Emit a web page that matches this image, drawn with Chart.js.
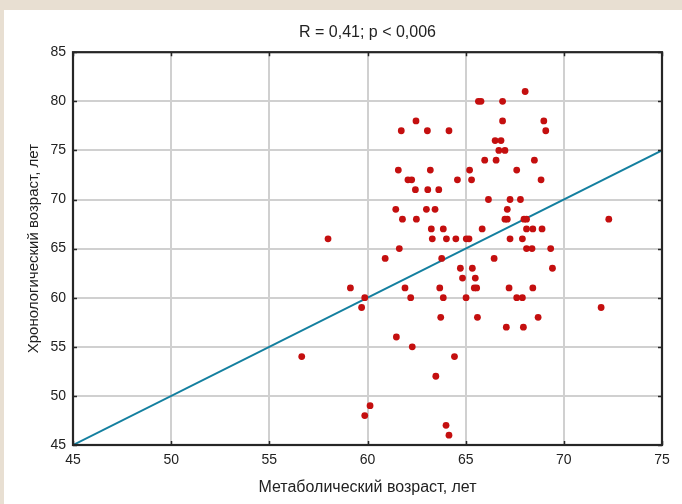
<!DOCTYPE html>
<html><head><meta charset="utf-8">
<script src="https://cdn.jsdelivr.net/npm/chart.js@4/dist/chart.umd.min.js"></script>
<style>
html,body{margin:0;padding:0;background:#e8dfd2;width:682px;height:504px;overflow:hidden}
#panel{position:absolute;left:4px;top:10px;width:678px;height:494px;background:#fff}
canvas{display:block}
</style></head><body>
<div id="panel"><canvas id="c" width="678" height="494"></canvas></div>
<script>
// Metabolic age (x) and chronological age (y) per patient
const metabolicAge = [
  68.03,
  65.65, 65.78, 66.88,
  62.47, 66.88, 68.98,
  61.72, 63.05, 64.15, 69.08,
  66.5, 66.8,
  66.69, 67.0,
  65.97, 66.55, 68.5,
  61.57, 63.2, 65.2, 67.6,
  62.06, 62.25, 64.58, 65.3, 68.84,
  62.44, 63.07, 63.63,
  66.16, 67.26, 67.79,
  61.44, 63.0, 63.44, 67.12,
  61.78, 62.49, 67.0, 67.12, 67.97, 68.1, 72.29,
  63.25, 63.86, 65.84, 68.1, 68.42, 68.89,
  57.99, 63.3, 64.02, 64.5, 65.03, 65.17, 67.26, 67.89,
  61.62, 68.1, 68.38, 69.33,
  60.9, 63.78, 66.45,
  64.73, 65.34, 69.42,
  64.84, 65.49,
  59.13, 61.91, 63.68, 65.44, 65.56, 67.21, 68.42,
  59.86, 62.2, 63.86, 65.02, 67.6, 67.89,
  59.7, 71.9,
  63.73, 65.6, 68.69,
  67.07, 67.94,
  61.47,
  62.28,
  56.65, 64.43,
  63.48,
  60.13,
  59.86,
  64.0,
  64.15
];
const chronoAge = [
  81,
  80, 80, 80,
  78, 78, 78,
  77, 77, 77, 77,
  76, 76,
  75, 75,
  74, 74, 74,
  73, 73, 73, 73,
  72, 72, 72, 72, 72,
  71, 71, 71,
  70, 70, 70,
  69, 69, 69, 69,
  68, 68, 68, 68, 68, 68, 68,
  67, 67, 67, 67, 67, 67,
  66, 66, 66, 66, 66, 66, 66, 66,
  65, 65, 65, 65,
  64, 64, 64,
  63, 63, 63,
  62, 62,
  61, 61, 61, 61, 61, 61, 61,
  60, 60, 60, 60, 60, 60,
  59, 59,
  58, 58, 58,
  57, 57,
  56,
  55,
  54, 54,
  52,
  49,
  48,
  47,
  46
];
// Reference line
const lineX = [45, 75];
const lineY = [45, 75];
// Axis ticks
const xTicks = [45, 50, 55, 60, 65, 70, 75];
const yTicks = [45, 50, 55, 60, 65, 70, 75, 80, 85];
const chartTitle = 'R = 0,41; p < 0,006';
const xTitle = 'Метаболический возраст, лет';
const yTitle = 'Хронологический возраст, лет';

const FONT = "'Liberation Sans', Arial, sans-serif";
const TXT = '#222222';

const frame = {
  id: 'frame',
  afterDraw(chart) {
    const {ctx, chartArea: a, scales: {x, y}} = chart;
    ctx.save();
    ctx.strokeStyle = '#262626';
    ctx.lineWidth = 1.5;
    ctx.beginPath();
    xTicks.forEach(v => {
      const px = Math.round(x.getPixelForValue(v)) + 0.5;
      ctx.moveTo(px, a.bottom); ctx.lineTo(px, a.bottom - 4);
      ctx.moveTo(px, a.top); ctx.lineTo(px, a.top + 4);
    });
    yTicks.forEach(v => {
      const py = Math.round(y.getPixelForValue(v)) + 0.5;
      ctx.moveTo(a.left, py); ctx.lineTo(a.left + 4, py);
      ctx.moveTo(a.right, py); ctx.lineTo(a.right - 4, py);
    });
    ctx.stroke();
    ctx.lineWidth = 2.2;
    ctx.strokeRect(a.left, a.top, a.right - a.left, a.bottom - a.top);
    ctx.restore();
  }
};

new Chart(document.getElementById('c'), {
  data: {
    datasets: [
      {
        type: 'scatter',
        data: metabolicAge.map((v, i) => ({x: v, y: chronoAge[i]})),
        backgroundColor: '#c40f0f',
        borderColor: '#c40f0f',
        borderWidth: 0,
        pointRadius: 3.4,
        order: 1
      },
      {
        type: 'line',
        data: lineX.map((v, i) => ({x: v, y: lineY[i]})),
        borderColor: '#137f9f',
        borderWidth: 2,
        pointRadius: 0,
        fill: false,
        order: 2
      }
    ]
  },
  options: {
    responsive: false,
    animation: false,
    devicePixelRatio: 1,
    layout: {padding: {left: 0, right: 20, top: 0, bottom: 0}},
    plugins: {
      legend: {display: false},
      tooltip: {enabled: false},
      title: {
        display: true, text: chartTitle, color: TXT, fullSize: false,
        font: {family: FONT, size: 16, weight: 'normal'},
        padding: {top: 13, bottom: 10}
      }
    },
    scales: {
      x: {
        type: 'linear', min: 45, max: 75,
        afterBuildTicks: s => { s.ticks = xTicks.map(v => ({value: v})); },
        afterFit: s => { s.height = 59; },
        grid: {color: '#d0d0d0', lineWidth: 2, drawTicks: false},
        border: {display: false},
        ticks: {color: TXT, padding: 7, font: {family: FONT, size: 14}, maxRotation: 0, autoSkip: false},
        title: {display: true, text: xTitle, color: TXT, font: {family: FONT, size: 16}, padding: {top: 0, bottom: 7}}
      },
      y: {
        type: 'linear', min: 45, max: 85,
        afterBuildTicks: s => { s.ticks = yTicks.map(v => ({value: v})); },
        afterFit: s => { s.width = 69; },
        grid: {color: '#d0d0d0', lineWidth: 2, drawTicks: false},
        border: {display: false},
        ticks: {color: TXT, padding: 7, font: {family: FONT, size: 14}, autoSkip: false},
        title: {display: true, text: yTitle, color: TXT, font: {family: FONT, size: 15}, padding: {top: 21, bottom: 0}}
      }
    }
  },
  plugins: [frame]
});
</script>
</body></html>
